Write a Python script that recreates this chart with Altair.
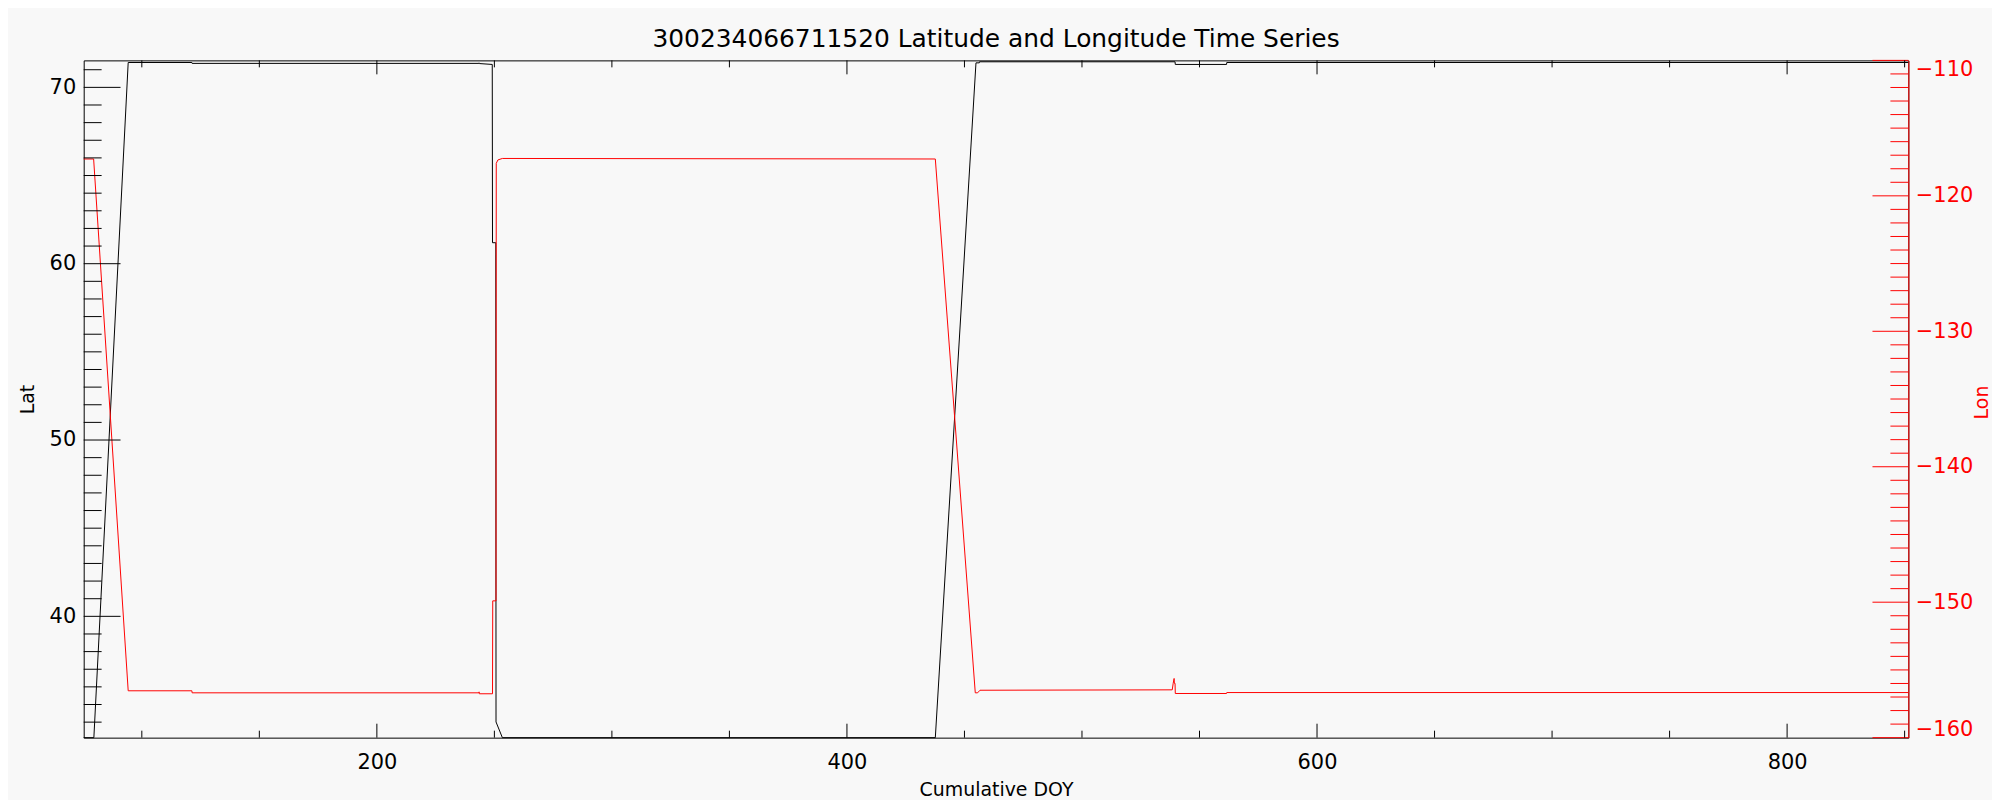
import altair as alt
import pandas as pd

TITLE = "300234066711520 Latitude and Longitude Time Series"

# Latitude series (black)
lat_doy = [75.27, 79.6, 94.2, 121.3, 121.4, 243.4, 243.5, 243.6, 249.1, 249.2,
           250.6, 250.7, 253.4, 437.6, 454.9, 456.3, 456.4, 539.6, 539.7,
           561.5, 561.6, 851.58]
lat_val = [33.12, 33.12, 71.41, 71.41, 71.36, 71.36, 71.39, 71.35, 71.30, 61.19,
           61.19, 34.01, 33.12, 33.12, 71.39, 71.39, 71.45, 71.45, 71.30,
           71.30, 71.41, 71.41]

# Longitude series (red)
lon_doy = [75.27, 79.5, 94.2, 121.3, 121.4, 243.4, 243.5, 243.6, 249.2, 249.3,
           250.7, 250.8, 251.5, 253.4, 437.6, 454.6, 455.6, 456.6, 538.4, 538.8,
           539.2, 539.3, 539.6, 539.7, 561.5, 561.6, 851.58]
lon_val = [-117.28, -117.28, -156.54, -156.54, -156.69, -156.69, -156.62, -156.76,
           -156.76, -149.9, -149.9, -117.6, -117.35, -117.24, -117.28, -156.69,
           -156.69, -156.50, -156.47, -155.99, -155.63, -155.99, -155.99, -156.74,
           -156.74, -156.67, -156.67]

# Axis ticks
x_major = [200, 400, 600, 800]
x_minor = [100, 150, 250, 300, 350, 450, 500, 550, 650, 700, 750, 850]
lat_major = [40, 50, 60, 70]
lat_minor = [v for v in range(34, 72) if v % 10 != 0]
lon_major = [-160, -150, -140, -130, -120, -110]
lon_minor = [v for v in range(-159, -110) if v % 10 != 0]

W, H = 1832, 680
FONT = "DejaVu Sans"
RED = "#ff0000"

x_dom = [75.27, 851.58]
lat_dom = [33.12, 71.53]
lon_dom = [-160, -110]


def xs():
    return alt.Scale(domain=x_dom, nice=False, zero=False)


def ys(dom):
    return alt.Scale(domain=dom, nice=False, zero=False)


lat_df = pd.DataFrame({"doy": lat_doy, "lat": lat_val})
lon_df = pd.DataFrame({"doy": lon_doy, "lon": lon_val})

x_axis = alt.Axis(title="Cumulative DOY", orient="bottom", values=x_major,
                  format="d", ticks=False, domain=False, grid=False,
                  labelPadding=14, labelFont=FONT, labelFontSize=21,
                  labelColor="black", titleFont=FONT, titleFontSize=19,
                  titleFontWeight="normal", titleColor="black",
                  titleY=58, titleBaseline="alphabetic")

lat_axis = alt.Axis(title="Lat", orient="left", values=lat_major, format="d",
                    ticks=False, domain=False, grid=False,
                    labelPadding=8, labelFont=FONT, labelFontSize=21,
                    labelColor="black", titleFont=FONT, titleFontSize=19,
                    titleFontWeight="normal", titleColor="black",
                    titlePadding=12)

lon_axis = alt.Axis(title="Lon", orient="right", values=lon_major, format="d",
                    ticks=False, domain=True, domainColor=RED,
                    grid=False, labelPadding=7, labelFont=FONT,
                    labelFontSize=21, labelColor=RED, labelFlush=True,
                    labelFlushOffset=2,
                    titleFont=FONT, titleFontSize=19,
                    titleFontWeight="normal", titleColor=RED,
                    titleAngle=270, titleX=73, titleY=343,
                    titleAlign="center", titleBaseline="middle")

lat_line = alt.Chart(lat_df).mark_line(color="black", strokeWidth=1).encode(
    x=alt.X("doy:Q", scale=xs(), axis=x_axis),
    y=alt.Y("lat:Q", scale=ys(lat_dom), axis=lat_axis),
)
lon_line = alt.Chart(lon_df).mark_line(color=RED, strokeWidth=1).encode(
    x=alt.X("doy:Q", scale=xs(), axis=None),
    y=alt.Y("lon:Q", scale=ys(lon_dom), axis=lon_axis),
)


def yticks(vals, dom, x0, x1, color):
    return alt.Chart(pd.DataFrame({"v": vals})).mark_rule(
        color=color, strokeWidth=1).encode(
        y=alt.Y("v:Q", scale=ys(dom), axis=None),
        x=alt.value(x0), x2=alt.value(x1))


def xticks(vals, y0, y1):
    return alt.Chart(pd.DataFrame({"v": vals})).mark_rule(
        color="black", strokeWidth=1).encode(
        x=alt.X("v:Q", scale=xs(), axis=None),
        y=alt.value(y0), y2=alt.value(y1))


chart = alt.layer(
    lat_line,
    lon_line,
    yticks(lat_major, lat_dom, 0, 37, "black"),
    yticks(lat_minor, lat_dom, 0, 18, "black"),
    yticks(lon_major, lon_dom, W - 36, W, RED),
    yticks(lon_minor, lon_dom, W - 18, W, RED),
    xticks(x_major, H - 14, H),
    xticks(x_minor, H - 7, H),
    xticks(x_major, 0, 14),
    xticks(x_minor, 0, 7),
).resolve_scale(x="independent", y="independent").resolve_axis(
    x="independent", y="independent").properties(
    width=W, height=H,
    title=alt.TitleParams(TITLE, font=FONT, fontSize=25, fontWeight="normal",
                          color="black", offset=6, anchor="middle",
                          frame="group"),
    background="#f8f8f8",
    padding={"left": 76, "top": 51, "right": 84, "bottom": 61},
    autosize=alt.AutoSizeParams(type="none"),
).configure_view(stroke="black", strokeWidth=1)

chart.save("out.html", embed_options={"renderer": "svg", "actions": False})
